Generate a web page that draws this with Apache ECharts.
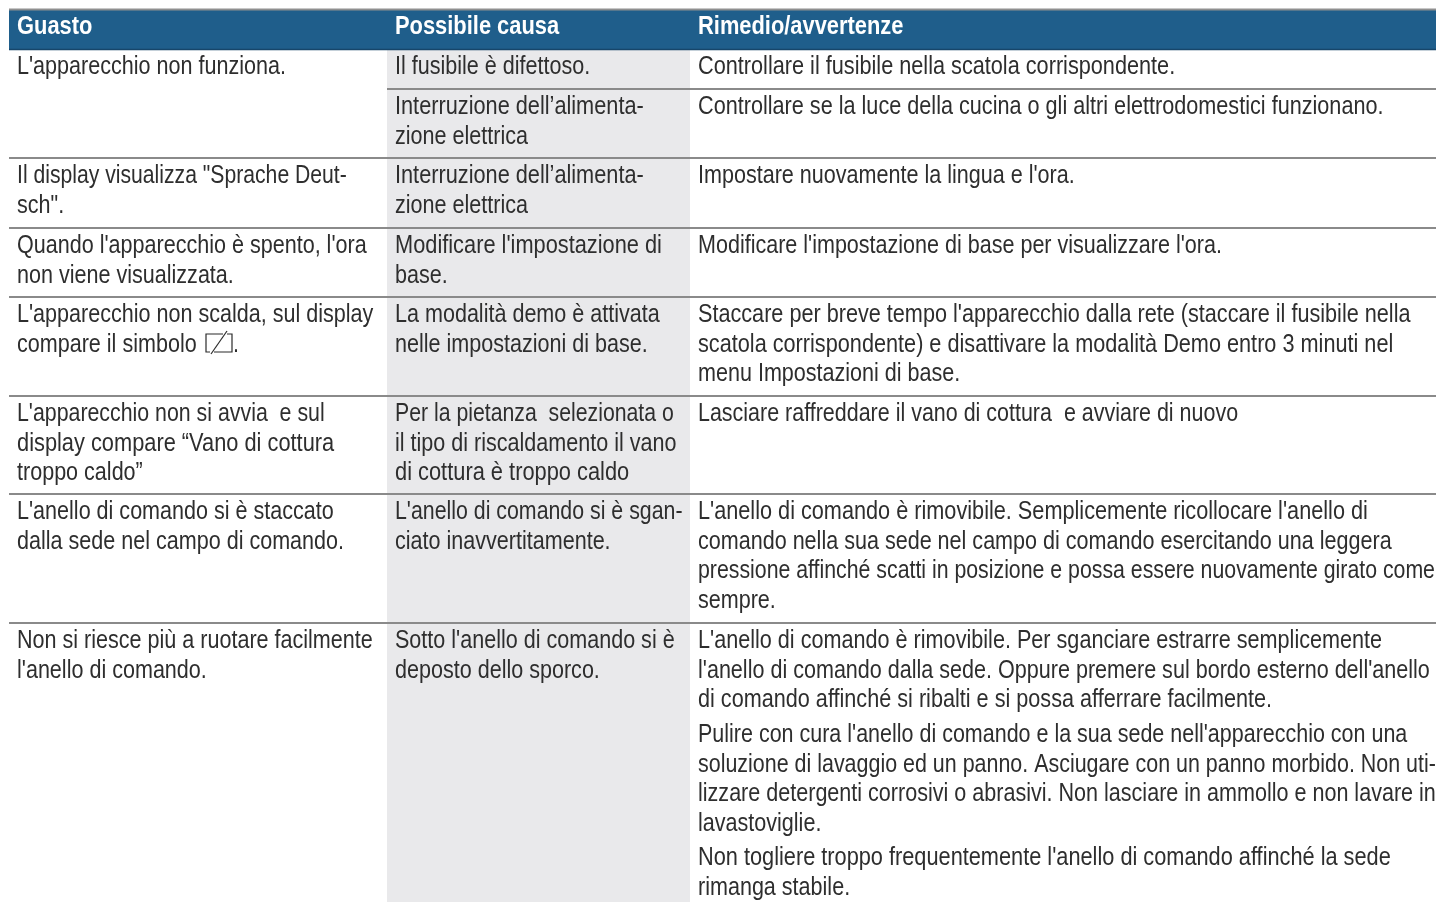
<!DOCTYPE html>
<html><head><meta charset="utf-8">
<style>html,body{margin:0;padding:0;background:#fff}#c{width:1436px;height:902px}</style>
<script src="https://cdn.jsdelivr.net/npm/echarts@6/dist/echarts.min.js"></script>
</head><body><div id="c"></div>
<script>
// ---- table content ----
const headers = ["Guasto", "Possibile causa", "Rimedio/avvertenze"];
const guasto = [
  ["L'apparecchio non funziona."],
  ["Il display visualizza \"Sprache Deut-", "sch\"."],
  ["Quando l'apparecchio è spento, l'ora", "non viene visualizzata."],
  ["L'apparecchio non scalda, sul display", "compare il simbolo"],
  ["L'apparecchio non si avvia  e sul", "display compare “Vano di cottura", "troppo caldo”"],
  ["L'anello di comando si è staccato", "dalla sede nel campo di comando."],
  ["Non si riesce più a ruotare facilmente", "l'anello di comando."]
];
const causa = [
  ["Il fusibile è difettoso."],
  ["Interruzione dell’alimenta-", "zione elettrica"],
  ["Interruzione dell’alimenta-", "zione elettrica"],
  ["Modificare l'impostazione di", "base."],
  ["La modalità demo è attivata", "nelle impostazioni di base."],
  ["Per la pietanza  selezionata o", "il tipo di riscaldamento il vano", "di cottura è troppo caldo"],
  ["L'anello di comando si è sgan-", "ciato inavvertitamente."],
  ["Sotto l'anello di comando si è", "deposto dello sporco."]
];
const rimedio = [
  [["Controllare il fusibile nella scatola corrispondente."]],
  [["Controllare se la luce della cucina o gli altri elettrodomestici funzionano."]],
  [["Impostare nuovamente la lingua e l'ora."]],
  [["Modificare l'impostazione di base per visualizzare l'ora."]],
  [["Staccare per breve tempo l'apparecchio dalla rete (staccare il fusibile nella", "scatola corrispondente) e disattivare la modalità Demo entro 3 minuti nel", "menu Impostazioni di base."]],
  [["Lasciare raffreddare il vano di cottura  e avviare di nuovo"]],
  [["L'anello di comando è rimovibile. Semplicemente ricollocare l'anello di", "comando nella sua sede nel campo di comando esercitando una leggera", "pressione affinché scatti in posizione e possa essere nuovamente girato come", "sempre."]],
  [["L'anello di comando è rimovibile. Per sganciare estrarre semplicemente", "l'anello di comando dalla sede. Oppure premere sul bordo esterno dell'anello", "di comando affinché si ribalti e si possa afferrare facilmente."],
   ["Pulire con cura l'anello di comando e la sua sede nell'apparecchio con una", "soluzione di lavaggio ed un panno. Asciugare con un panno morbido. Non uti-", "lizzare detergenti corrosivi o abrasivi. Non lasciare in ammollo e non lavare in", "lavastoviglie."],
   ["Non togliere troppo frequentemente l'anello di comando affinché la sede", "rimanga stabile."]]
];

// ---- layout (separate from content) ----
const W = 1436, H = 902;
const tableLeft = 9, causeLeft = 387, causeRight = 690;
const textX = [17, 395, 698];
const headTop = 10, headBottom = 49;
const subRowTops = [49, 89, 158, 228, 297, 396, 494, 623];   // rows of causa / rimedio
const guastoRowOf = [0, 2, 3, 4, 5, 6, 7];                   // guasto rows span subrow 0+1
const lineStep = 29.5, paraGap = 5.2, firstLine = 18.6;
const FONT = '"Liberation Sans",sans-serif';
const fontSize = 25, bodyScale = 0.862, headScale = 0.875;
// small per-line width corrections, by line start (the reference face has different set widths)
const fitTweaks = [
  ["Il display", .982], ["display compare", 1.012], ["L'apparecchio non si", .99],
  ["Interruzione", 1.008], ["Modificare l'impostazione di base per", .999], ["Modificare l'impostazione di", 1.011], ["Per la pietanza", .986],
  ["di cottura", 1.013], ["L'anello di comando si è sgan", .99], ["Controllare il", 1.006],
  ["Controllare se", 1.004], ["Staccare", 1.004], ["scatola", 1.006],
  ["L'anello di comando è rimovibile. Sem", 1.006], ["pressione", .988], ["Pulire", .997],
  ["Lasciare", .996], ["Non togliere", 1.009], ["L'anello di comando è rimovibile. Per", 1.003],
  ["di comando", 1.004], ["soluzione", .995]
];
const fitOf = t => { const m = fitTweaks.find(f => t.startsWith(f[0])); return m ? m[1] : 1; };

const textItems = [];
headers.forEach((t, c) => textItems.push([textX[c], 27, t, 1]));
guasto.forEach((ls, i) => ls.forEach((t, k) =>
  textItems.push([textX[0], subRowTops[guastoRowOf[i]] + firstLine + k * lineStep, t, 0])));
textItems.push([233, subRowTops[4] + firstLine + lineStep, ".", 0]);   // full stop after the symbol
causa.forEach((ls, i) => ls.forEach((t, k) =>
  textItems.push([textX[1], subRowTops[i] + firstLine + k * lineStep, t, 0])));
rimedio.forEach((paras, i) => {
  let y = subRowTops[i] + firstLine;
  paras.forEach(p => { p.forEach(t => { textItems.push([textX[2], y, t, 0]); y += lineStep; }); y += paraGap; });
});

const rects = [
  [tableLeft, headTop, W, headBottom, '#1f5e8b'],
  [causeLeft, headBottom, causeRight, H, '#e9e9eb']
];
const rules = [
  [tableLeft, W, 9.5, '#8f8f8f', 2],
  [tableLeft, W, 49.5, '#17466a', 1.6],
  [causeLeft, W, 89, '#8a8a8a', 2],
  [tableLeft, W, 158, '#8a8a8a', 2],
  [tableLeft, W, 228, '#8a8a8a', 2],
  [tableLeft, W, 297, '#8a8a8a', 2],
  [tableLeft, W, 396, '#8a8a8a', 2],
  [tableLeft, W, 494, '#8a8a8a', 2],
  [tableLeft, W, 623, '#8a8a8a', 2]
];
// the "demo mode" symbol after "compare il simbolo"
const glyph = [
  [[223, 334], [206, 334], [206, 352], [210, 352]],
  [[214, 352], [232, 352], [232, 334], [227, 334]],
  [[211, 354], [227, 331]]
];

const chart = echarts.init(document.getElementById('c'), null, {renderer: 'canvas'});
chart.setOption({
  animation: false,
  grid: {left: 0, top: 0, width: W, height: H},
  xAxis: {type: 'value', min: 0, max: W, show: false},
  yAxis: {type: 'value', min: 0, max: H, inverse: true, show: false},
  tooltip: {show: false},
  series: [
    {type: 'custom', silent: true, clip: false, data: rects, encode: {x: [0, 2], y: [1, 3]},
     renderItem(p, api) {
       const a = api.coord([api.value(0), api.value(1)]), b = api.coord([api.value(2), api.value(3)]);
       return {type: 'rect', shape: {x: a[0], y: a[1], width: b[0] - a[0], height: b[1] - a[1]},
               style: {fill: rects[p.dataIndex][4]}};
     }},
    {type: 'custom', silent: true, clip: false, data: rules, encode: {x: [0, 1], y: 2},
     renderItem(p, api) {
       const a = api.coord([api.value(0), api.value(2)]), b = api.coord([api.value(1), api.value(2)]);
       const r = rules[p.dataIndex];
       return {type: 'line', shape: {x1: a[0], y1: a[1], x2: b[0], y2: b[1]},
               style: {stroke: r[3], lineWidth: r[4]}};
     }},
    {type: 'custom', silent: true, clip: false, data: glyph.map((g, i) => [g[0][0], g[0][1], i]),
     encode: {x: 0, y: 1},
     renderItem(p, api) {
       const pts = glyph[p.dataIndex].map(q => api.coord(q));
       return {type: 'polyline', shape: {points: pts}, style: {stroke: '#2b2b2b', lineWidth: 1.2, fill: null}};
     }},
    {type: 'custom', silent: true, clip: false,
     data: textItems.map(t => [t[0], t[1], t[3]]), encode: {x: 0, y: 1},
     renderItem(p, api) {
       const it = textItems[p.dataIndex];
       const c = api.coord([it[0], it[1]]);
       return {type: 'text', x: c[0], y: c[1], scaleX: it[3] ? headScale : bodyScale * fitOf(it[2]),
         style: {text: it[2], fill: it[3] ? '#ffffff' : '#2e2e2e', font: (it[3] ? 'bold ' : '') + fontSize + 'px ' + FONT,
                 textAlign: 'left', textVerticalAlign: 'middle'}};
     }}
  ]
});
</script></body></html>
